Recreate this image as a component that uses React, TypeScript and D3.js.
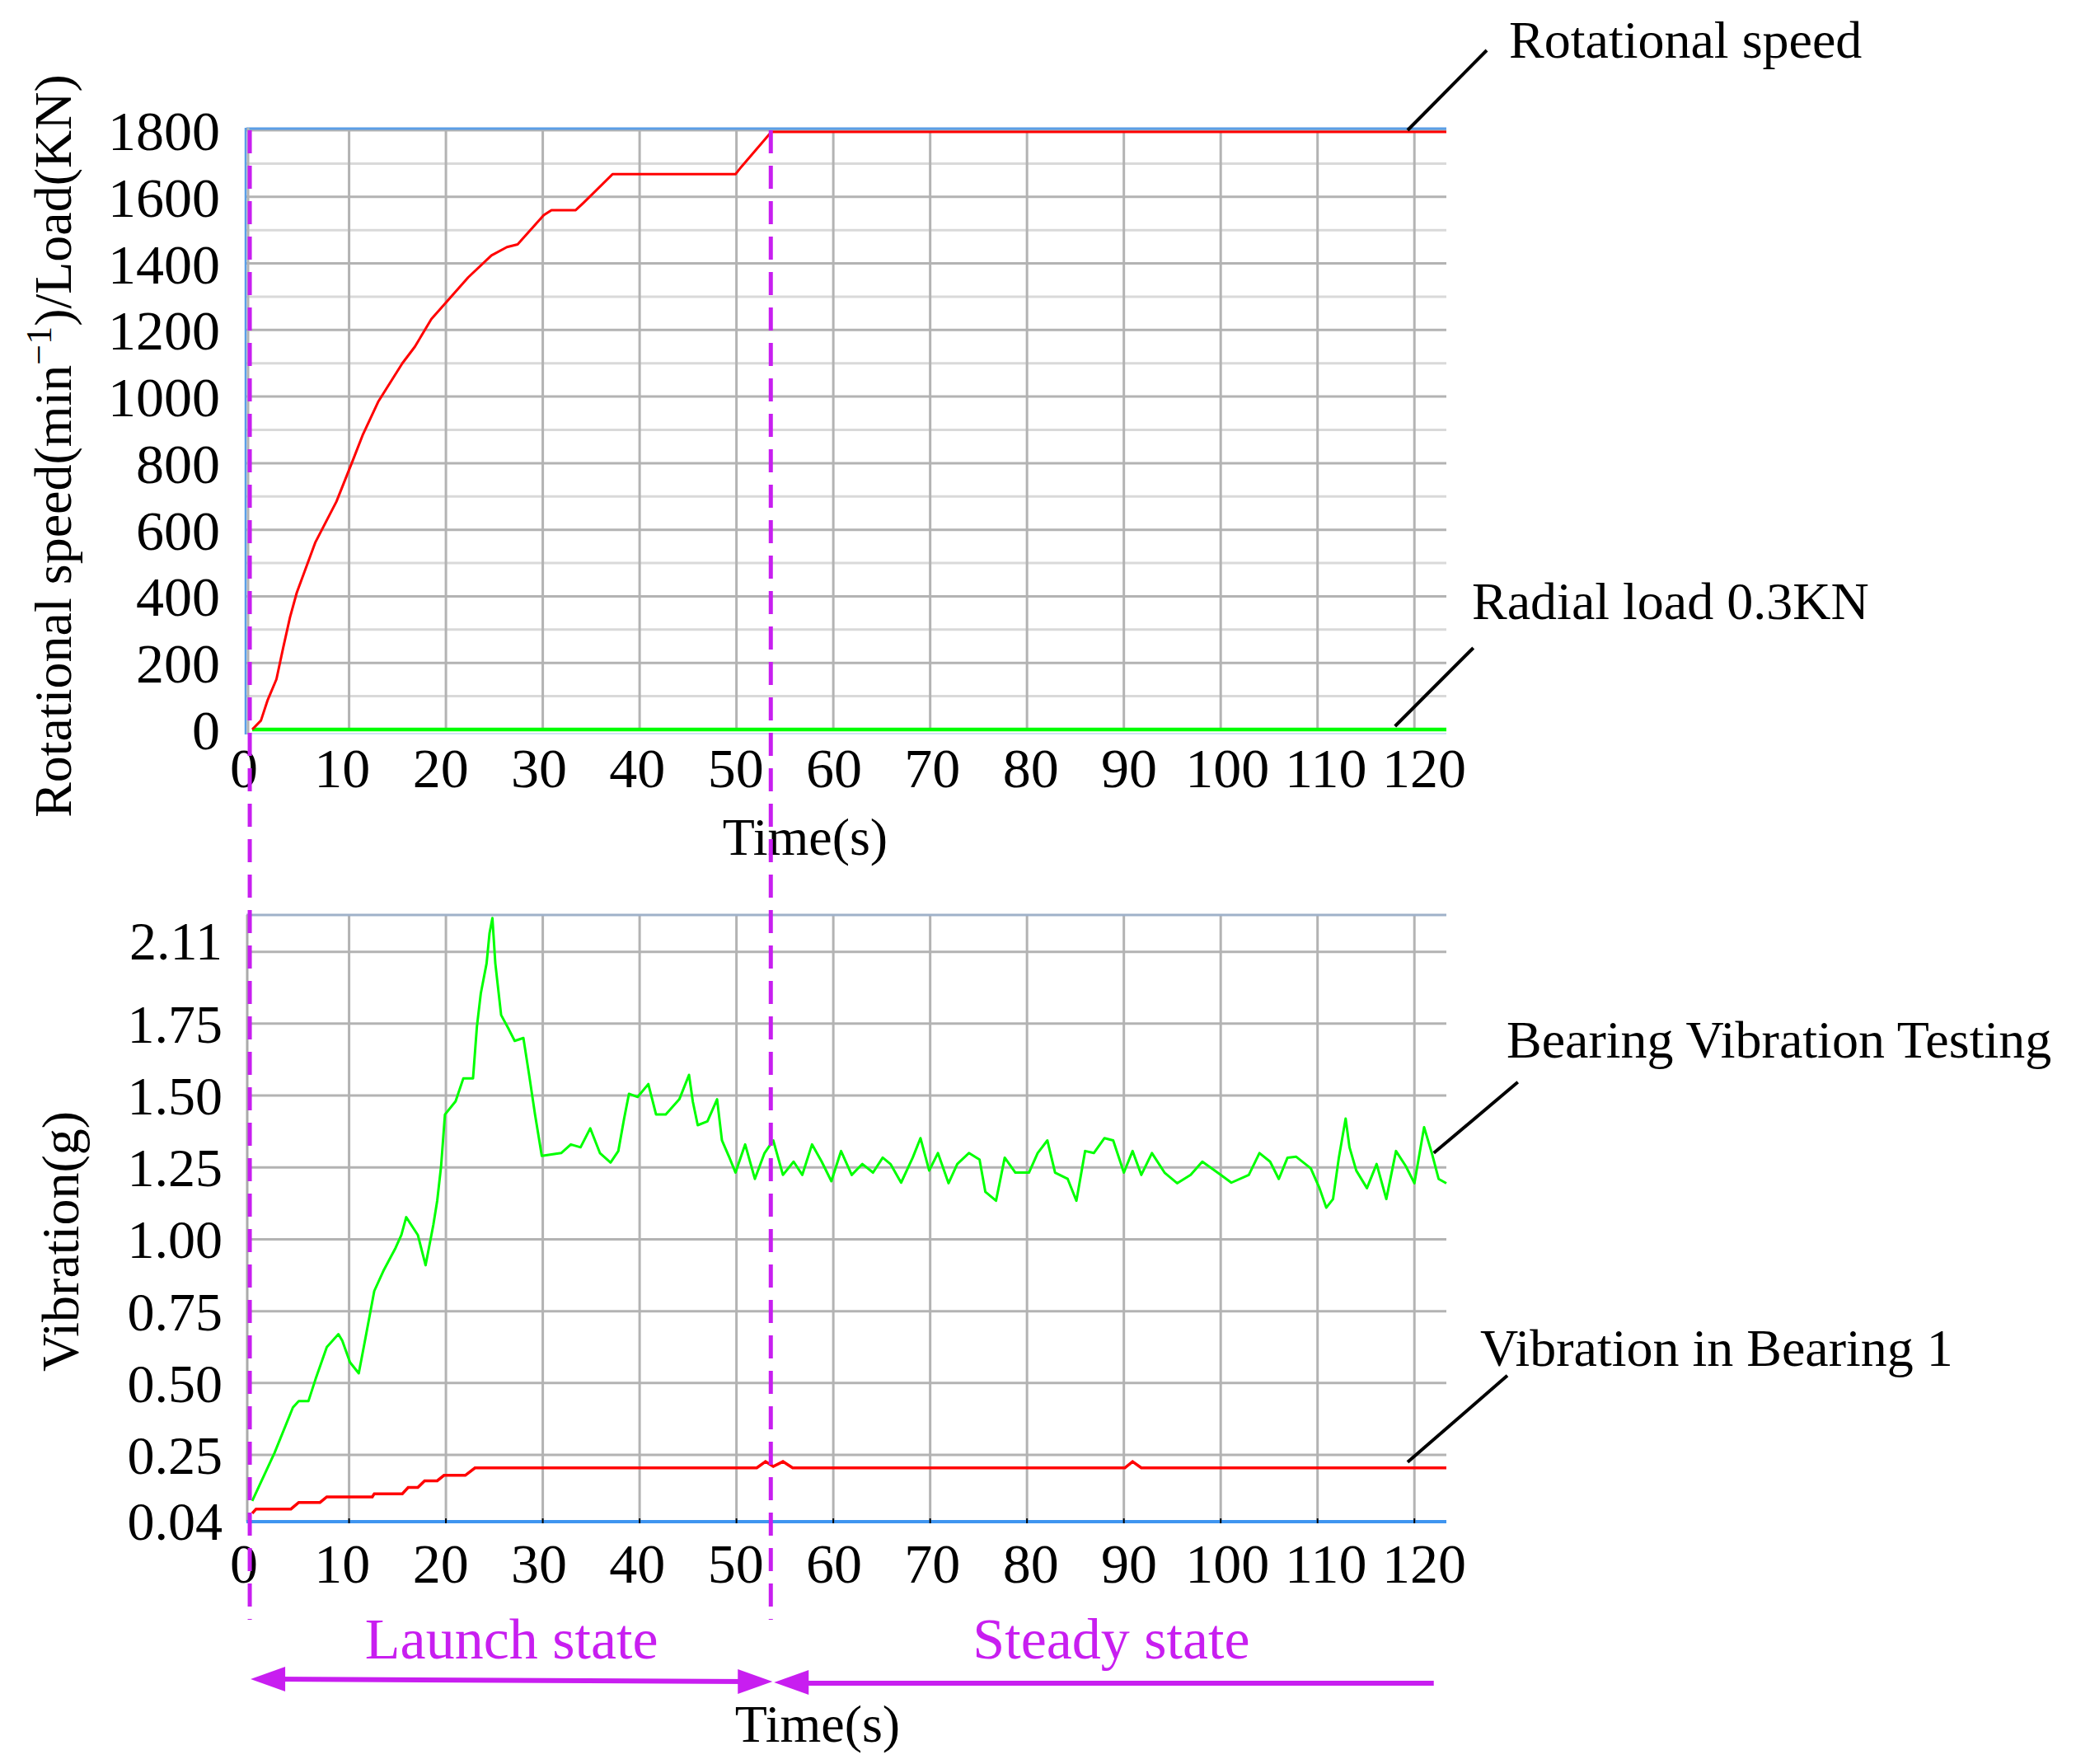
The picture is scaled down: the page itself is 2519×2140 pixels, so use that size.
import { useRef, useEffect } from 'react'
import * as d3 from 'd3'

// rotational speed (min^-1) against time (s)
const speedSeries: [number, number][] = [
  [0, 0], [0.9, 27], [1.6, 89], [2.5, 151], [3.2, 246], [3.9, 337], [4.6, 411],
  [6.5, 561], [8.7, 685], [10.3, 802], [11.4, 884], [13.0, 984], [15.5, 1100],
  [16.8, 1150], [18.5, 1233], [19.5, 1266], [22.3, 1358], [24.7, 1424], [26.3, 1449],
  [27.4, 1457], [30.1, 1545], [30.9, 1560], [33.4, 1560], [34.2, 1582], [37.2, 1668],
  [49.9, 1668], [50.5, 1690], [53.6, 1795], [123.3, 1795],
]

// radial load (KN)
const loadSeries: [number, number][] = [[0, 0.3], [123.3, 0.3]]

// bearing vibration testing (g)
const testingSeries: [number, number][] = [
  [0, 0.09], [2.3, 0.257], [4.2, 0.415], [4.8, 0.437], [5.8, 0.437], [6.6, 0.52],
  [7.7, 0.625], [8.9, 0.67], [9.3, 0.647], [10.1, 0.572], [11.0, 0.534], [11.6, 0.64],
  [12.6, 0.82], [13.6, 0.894], [14.8, 0.97], [15.4, 1.015], [15.9, 1.077], [17.1, 1.015],
  [17.9, 0.91], [18.7, 1.05], [19.1, 1.134], [19.5, 1.254], [19.9, 1.434], [21.0, 1.48],
  [21.8, 1.56], [22.8, 1.56], [23.2, 1.74], [23.6, 1.855], [24.2, 1.96], [24.5, 2.064],
  [24.8, 2.117], [25.1, 1.96], [25.7, 1.78], [26.5, 1.73], [27.1, 1.69], [28.0, 1.7],
  [28.6, 1.57], [29.2, 1.434], [29.9, 1.29], [31.9, 1.3], [32.9, 1.33], [33.9, 1.32],
  [34.9, 1.386], [35.9, 1.3], [37.0, 1.267], [37.8, 1.307], [38.4, 1.42], [38.9, 1.506],
  [39.8, 1.495], [40.9, 1.54], [41.7, 1.434], [42.7, 1.434], [44.1, 1.487], [45.1, 1.572],
  [45.5, 1.478], [46.0, 1.397], [47.0, 1.41], [48.0, 1.487], [48.5, 1.344], [49.2, 1.29],
  [49.9, 1.232], [50.9, 1.33], [51.9, 1.21], [52.9, 1.3], [53.8, 1.344], [54.8, 1.224],
  [55.9, 1.27], [56.8, 1.224], [57.8, 1.33], [58.8, 1.27], [59.8, 1.202], [60.8, 1.307],
  [61.9, 1.224], [63.0, 1.262], [64.1, 1.232], [65.1, 1.284], [65.9, 1.262], [67.0, 1.197],
  [68.2, 1.284], [69.0, 1.352], [69.9, 1.239], [70.8, 1.3], [71.9, 1.195], [72.8, 1.262],
  [74.0, 1.3], [75.1, 1.277], [75.7, 1.165], [76.8, 1.134], [77.7, 1.284], [78.8, 1.232],
  [80.2, 1.232], [81.1, 1.3], [82.1, 1.344], [82.9, 1.232], [84.2, 1.21], [85.1, 1.134],
  [86.0, 1.307], [86.9, 1.3], [88.0, 1.352], [88.9, 1.344], [90.0, 1.232], [90.9, 1.307],
  [91.8, 1.224], [92.9, 1.3], [94.2, 1.232], [95.5, 1.195], [96.9, 1.224], [98.1, 1.27],
  [100.0, 1.224], [101.1, 1.197], [102.9, 1.224], [104.0, 1.3], [105.1, 1.27], [106.0, 1.21],
  [106.9, 1.284], [107.8, 1.287], [109.3, 1.247], [110.2, 1.178], [110.9, 1.11], [111.6, 1.14],
  [112.2, 1.284], [112.9, 1.42], [113.3, 1.32], [114.0, 1.239], [115.1, 1.178], [116.1, 1.262],
  [117.1, 1.14], [118.1, 1.307], [119.1, 1.255], [120.0, 1.195], [121.0, 1.39], [121.8, 1.3],
  [122.5, 1.21], [123.3, 1.195],
]

// vibration in bearing 1 (g)
const bearing1Series: [number, number][] = [
  [0, 0.047], [0.4, 0.062], [4.0, 0.062], [4.8, 0.085], [7.0, 0.085], [7.7, 0.104],
  [12.4, 0.104], [12.6, 0.115], [15.5, 0.115], [16.1, 0.137], [17.1, 0.137], [17.8, 0.16],
  [19.1, 0.16], [19.8, 0.179], [22.0, 0.179], [23.0, 0.205], [52.1, 0.205], [53.0, 0.227],
  [53.8, 0.21], [54.8, 0.227], [55.8, 0.205], [90.1, 0.205], [90.9, 0.227], [91.8, 0.205],
  [123.3, 0.205],
]

const timeTicks = [0, 10, 20, 30, 40, 50, 60, 70, 80, 90, 100, 110, 120]
const speedTicks = [0, 200, 400, 600, 800, 1000, 1200, 1400, 1600, 1800]
const speedGrid = d3.range(100, 1801, 100)
const vibGrid = [0.25, 0.5, 0.75, 1.0, 1.25, 1.5, 1.75, 2.0]
const vibTickPos = [0.02, 0.25, 0.5, 0.75, 1.0, 1.25, 1.5, 1.75, 2.04]
const vibTickLabels = ['0.04', '0.25', '0.50', '0.75', '1.00', '1.25', '1.50', '1.75', '2.11']

const launchStart = 0
const launchEnd = 53.8
const steadyEnd = 122

const WIDTH = 2519
const HEIGHT = 2140
const FONT = '"Liberation Serif", "Times New Roman", serif'
const MAGENTA = '#c81ef0'

const App = () => {
  const svgRef = useRef<SVGSVGElement>(null)

  useEffect(() => {
    if (!svgRef.current) return
    const svg = d3.select(svgRef.current)
    svg.selectAll('*').remove()
    svg.attr('width', WIDTH).attr('height', HEIGHT)

    svg.append('rect').attr('width', WIDTH).attr('height', HEIGHT).attr('fill', '#fff')

    const x = d3.scaleLinear().domain([-0.6, 123.3]).range([299, 1755])
    // tick labels sit a little wider apart than the grid in the original
    const xLabel = d3.scaleLinear().domain([0, 120]).range([296, 1728])
    const ySpeed = d3.scaleLinear().domain([0, 1800]).range([885, 158])
    const yVib = d3.scaleLinear().domain([0.018, 2.128]).range([1846, 1110])

    const [left, right] = x.range()

    // ---------- upper panel ----------
    const top = svg.append('g')
    const [sBottom, sTop] = ySpeed.range()

    top.selectAll('.hgrid')
      .data(speedGrid)
      .join('line')
      .attr('x1', left).attr('x2', right)
      .attr('y1', (d: number) => ySpeed(d)).attr('y2', (d: number) => ySpeed(d))
      .attr('stroke', (d: number) => (d % 200 === 0 ? '#b3b3b3' : '#d9d9d9'))
      .attr('stroke-width', 3)

    top.selectAll('.vgrid')
      .data(timeTicks.slice(1))
      .join('line')
      .attr('x1', (d: number) => x(d)).attr('x2', (d: number) => x(d))
      .attr('y1', sTop).attr('y2', sBottom)
      .attr('stroke', '#b3b3b3')
      .attr('stroke-width', 3)

    top.append('line').attr('x1', left).attr('x2', right).attr('y1', sTop - 2).attr('y2', sTop - 2)
      .attr('stroke', '#5b9ee6').attr('stroke-width', 3)
    top.append('line').attr('x1', left).attr('x2', right).attr('y1', sBottom + 5).attr('y2', sBottom + 5)
      .attr('stroke', '#cfe3f5').attr('stroke-width', 2)
    top.append('line').attr('x1', left + 2).attr('x2', left + 2).attr('y1', sTop - 3).attr('y2', sBottom + 6)
      .attr('stroke', '#b3b3b3').attr('stroke-width', 3)
    top.append('line').attr('x1', left - 1).attr('x2', left - 1).attr('y1', sTop - 3).attr('y2', sBottom + 6)
      .attr('stroke', '#5b9ee6').attr('stroke-width', 2.5)

    const speedLine = d3.line<[number, number]>()
      .x((d) => x(d[0]))
      .y((d) => ySpeed(d[1]))

    top.append('path').datum(loadSeries)
      .attr('fill', 'none').attr('stroke', '#00ff00').attr('stroke-width', 4.5)
      .attr('d', speedLine)
    top.append('path').datum(speedSeries)
      .attr('fill', 'none').attr('stroke', '#ff0000').attr('stroke-width', 3)
      .attr('stroke-linejoin', 'round')
      .attr('d', speedLine)

    top.selectAll('.ytick')
      .data(speedTicks)
      .join('text')
      .attr('x', 267)
      .attr('y', (d: number) => ySpeed(d) + 24)
      .attr('text-anchor', 'end')
      .style('font-family', FONT)
      .style('font-size', '68px')
      .text((d: number) => String(d))

    top.selectAll('.xtick')
      .data(timeTicks)
      .join('text')
      .attr('x', (d: number) => xLabel(d))
      .attr('y', 955)
      .attr('text-anchor', 'middle')
      .style('font-family', FONT)
      .style('font-size', '68px')
      .text((d: number) => String(d))

    top.append('text')
      .attr('x', 977).attr('y', 1037)
      .attr('text-anchor', 'middle')
      .style('font-family', FONT).style('font-size', '64px')
      .text('Time(s)')

    const yTitle = top.append('text')
      .attr('transform', 'translate(86, 541) rotate(-90)')
      .attr('text-anchor', 'middle')
      .style('font-family', FONT).style('font-size', '64px')
    yTitle.append('tspan').text('Rotational speed(min')
    yTitle.append('tspan').attr('dy', -24).style('font-size', '44px').text('\u22121')
    yTitle.append('tspan').attr('dy', 24).text(')/Load(KN)')

    // ---------- lower panel ----------
    const bottom = svg.append('g')
    const [vBottom, vTop] = yVib.range()

    bottom.selectAll('.hgrid')
      .data(vibGrid)
      .join('line')
      .attr('x1', left).attr('x2', right)
      .attr('y1', (d: number) => yVib(d)).attr('y2', (d: number) => yVib(d))
      .attr('stroke', '#b3b3b3').attr('stroke-width', 3)

    bottom.selectAll('.vgrid')
      .data(timeTicks.slice(1))
      .join('line')
      .attr('x1', (d: number) => x(d)).attr('x2', (d: number) => x(d))
      .attr('y1', vTop).attr('y2', vBottom)
      .attr('stroke', '#b3b3b3').attr('stroke-width', 3)

    bottom.append('line').attr('x1', left).attr('x2', right).attr('y1', vTop).attr('y2', vTop)
      .attr('stroke', '#9fb1c9').attr('stroke-width', 3)
    bottom.append('line').attr('x1', left + 1).attr('x2', left + 1).attr('y1', vTop).attr('y2', vBottom)
      .attr('stroke', '#ababab').attr('stroke-width', 3)
    bottom.append('line').attr('x1', left).attr('x2', right).attr('y1', vBottom).attr('y2', vBottom)
      .attr('stroke', '#3f95f0').attr('stroke-width', 4)

    bottom.selectAll('.tickmark')
      .data(timeTicks.slice(1))
      .join('line')
      .attr('x1', (d: number) => x(d)).attr('x2', (d: number) => x(d))
      .attr('y1', vBottom - 4).attr('y2', vBottom + 2)
      .attr('stroke', '#000').attr('stroke-width', 2)

    const vibLine = d3.line<[number, number]>()
      .x((d) => x(d[0]))
      .y((d) => yVib(d[1]))

    bottom.append('path').datum(bearing1Series)
      .attr('fill', 'none').attr('stroke', '#ff0000').attr('stroke-width', 3.5)
      .attr('d', vibLine)
    bottom.append('path').datum(testingSeries)
      .attr('fill', 'none').attr('stroke', '#00ff00').attr('stroke-width', 3)
      .attr('stroke-linejoin', 'round')
      .attr('d', vibLine)

    bottom.selectAll('.ytick')
      .data(vibTickPos)
      .join('text')
      .attr('x', 270)
      .attr('y', (d: number) => yVib(d) + 23)
      .attr('text-anchor', 'end')
      .style('font-family', FONT).style('font-size', '66px')
      .text((_: number, i: number) => vibTickLabels[i])

    bottom.selectAll('.xtick')
      .data(timeTicks)
      .join('text')
      .attr('x', (d: number) => xLabel(d))
      .attr('y', 1920)
      .attr('text-anchor', 'middle')
      .style('font-family', FONT).style('font-size', '68px')
      .text((d: number) => String(d))

    bottom.append('text')
      .attr('transform', 'translate(95, 1506) rotate(-90)')
      .attr('text-anchor', 'middle')
      .style('font-family', FONT).style('font-size', '64px')
      .text('Vibration(g)')

    // ---------- state markers ----------
    const marks = svg.append('g')
    marks.selectAll('.stateline')
      .data([launchStart, launchEnd])
      .join('line')
      .attr('x1', (d: number) => x(d) - 3).attr('x2', (d: number) => x(d) - 3)
      .attr('y1', 158).attr('y2', 1965)
      .attr('stroke', MAGENTA).attr('stroke-width', 5)
      .attr('stroke-dasharray', '28 15')

    const arrowY = 2039
    const head = (tipX: number, dir: number, y: number) =>
      `M${tipX},${y} L${tipX - dir * 42},${y - 15} L${tipX - dir * 42},${y + 15} Z`

    const x0 = x(launchStart) - 2
    const x1 = x(launchEnd) - 1
    const x2 = x(steadyEnd)
    marks.append('line').attr('x1', x0 + 30).attr('x2', x1 - 30)
      .attr('y1', arrowY - 2).attr('y2', arrowY + 1)
      .attr('stroke', MAGENTA).attr('stroke-width', 6)
    marks.append('path').attr('d', head(x0, -1, arrowY - 2)).attr('fill', MAGENTA)
    marks.append('path').attr('d', head(x1, 1, arrowY + 1)).attr('fill', MAGENTA)
    marks.append('line').attr('x1', x1 + 30).attr('x2', x2)
      .attr('y1', arrowY + 3).attr('y2', arrowY + 3)
      .attr('stroke', MAGENTA).attr('stroke-width', 6)
    marks.append('path').attr('d', head(x1 + 2, -1, arrowY + 2)).attr('fill', MAGENTA)

    marks.append('text')
      .attr('x', (x0 + x1) / 2).attr('y', 2012)
      .attr('text-anchor', 'middle')
      .style('font-family', FONT).style('font-size', '70px')
      .attr('fill', MAGENTA)
      .text('Launch state')
    marks.append('text')
      .attr('x', (x1 + x2) / 2 + 10).attr('y', 2012)
      .attr('text-anchor', 'middle')
      .style('font-family', FONT).style('font-size', '70px')
      .attr('fill', MAGENTA)
      .text('Steady state')
    marks.append('text')
      .attr('x', 992).attr('y', 2113)
      .attr('text-anchor', 'middle')
      .style('font-family', FONT).style('font-size', '64px')
      .text('Time(s)')

    // ---------- annotations ----------
    const notes = [
      { label: 'Rotational speed', px: x(119.3), py: ySpeed(1800), dx: 96, dy: -97, tx: 1831, ty: 70 },
      { label: 'Radial load 0.3KN', px: x(118), py: ySpeed(10), dx: 95, dy: -95, tx: 1786, ty: 751 },
      { label: 'Bearing Vibration Testing', px: x(122), py: yVib(1.3), dx: 102, dy: -86, tx: 1828, ty: 1283 },
      { label: 'Vibration in Bearing 1', px: x(119.3), py: yVib(0.225), dx: 121, dy: -105, tx: 1796, ty: 1657 },
    ]
    const ann = svg.append('g')
    ann.selectAll('line')
      .data(notes)
      .join('line')
      .attr('x1', (d) => d.px).attr('y1', (d) => d.py)
      .attr('x2', (d) => d.px + d.dx).attr('y2', (d) => d.py + d.dy)
      .attr('stroke', '#000').attr('stroke-width', 4)
    ann.selectAll('text')
      .data(notes)
      .join('text')
      .attr('x', (d) => d.tx).attr('y', (d) => d.ty)
      .style('font-family', FONT).style('font-size', '64px')
      .text((d) => d.label)
  }, [])

  return (
    <svg
      ref={svgRef}
      style={{ position: 'absolute', left: 0, top: 0, display: 'block' }}
    />
  )
}

export default App
